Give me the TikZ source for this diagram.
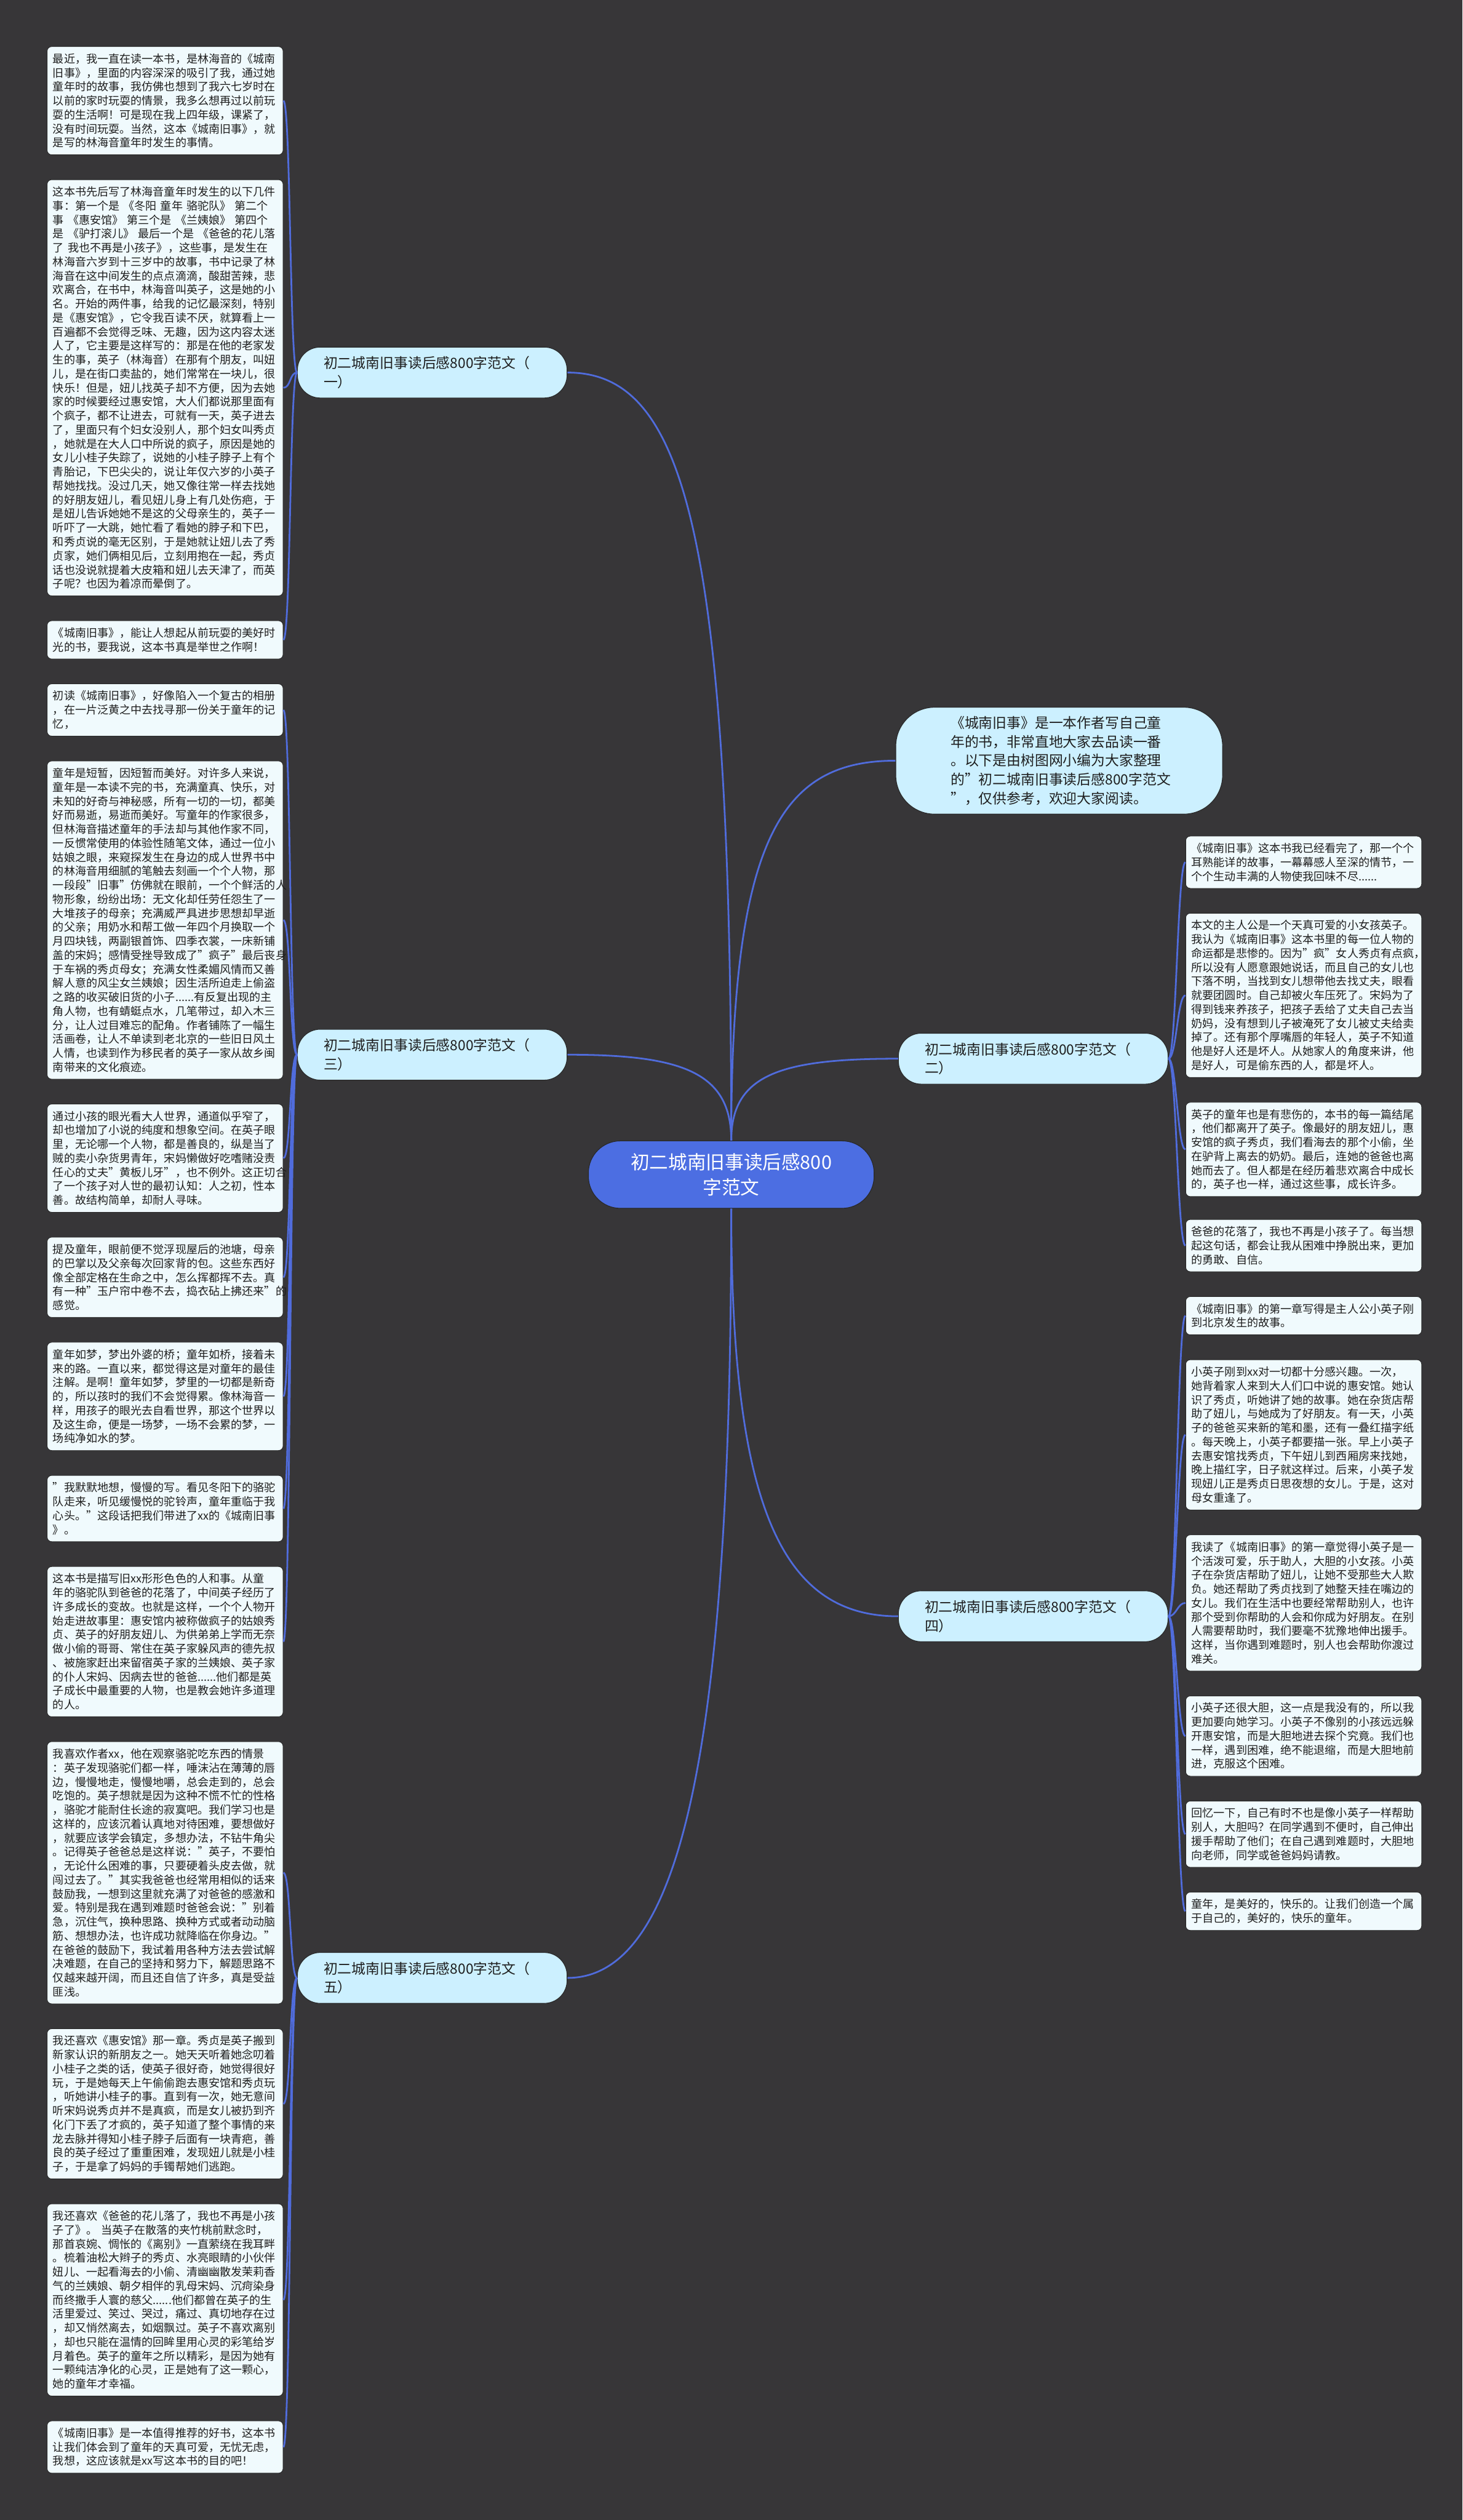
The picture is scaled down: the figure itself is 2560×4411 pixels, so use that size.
\documentclass[tikz,border=0pt]{standalone}
\usepackage{fontspec}
\setmainfont{Noto Sans CJK SC}
\usepackage{tikz}
\setlength{\parindent}{0pt}
\definecolor{bgdark}{RGB}{55, 54, 56}
\definecolor{linkblue}{RGB}{80, 108, 220}
\definecolor{rootblue}{RGB}{76, 110, 226}
\definecolor{branchbg}{RGB}{204, 240, 255}
\definecolor{leafbg}{RGB}{240, 250, 253}
\definecolor{edgegray}{RGB}{40, 40, 40}
\definecolor{inktext}{RGB}{30, 30, 30}
\newcommand{\leaffont}{\fontsize{9.75pt}{12.25pt}\selectfont}
\newcommand{\branchfont}{\fontsize{12.3pt}{16.5pt}\selectfont}
\newcommand{\rootfont}{\fontsize{16.5pt}{22pt}\selectfont}

\begin{document}
\begin{tikzpicture}[
    x=0.5pt, y=-0.5pt,
    leafnd/.style={anchor=north west, fill=leafbg, draw=edgegray,
                   line width=0.5pt, rounded corners=4pt,
                   text width=196.5pt, inner xsep=5pt, inner ysep=0pt,
                   minimum height=#1*12.25pt+9pt, align=left,
                   text=inktext, font=\leaffont},
    branchnd/.style={anchor=north west, fill=branchbg, draw=edgegray,
                     line width=0.6pt, rounded corners=20pt,
                     text width=190pt, inner xsep=23pt, inner ysep=0pt,
                     minimum height=44.5pt, align=left,
                     text=inktext, font=\branchfont},
    intrond/.style={fill=branchbg, draw=edgegray, line width=0.6pt,
                    rounded corners=34pt, text width=190pt,
                    minimum width=286pt, minimum height=93.5pt,
                    align=left, text=inktext, font=\branchfont},
    rootnd/.style={fill=rootblue, draw=edgegray, line width=0.6pt,
                   rounded corners=28pt, minimum width=250pt,
                   minimum height=59pt, align=center, text=white,
                   font=\rootfont},
    link/.style={draw=linkblue, line width=1.5pt},
]

% -- Background --
\fill[bgdark] (0, 0) rectangle (2560, 4411);

% -- Centre and intro --
\node[rootnd] (root) at (1280, 2056) {初二城南旧事读后感800\\字范文};
\node[intrond] (intro) at (1854, 1331.5)
    {《城南旧事》是一本作者写自己童\\
     年的书，非常直地大家去品读一番\\
     。以下是由树图网小编为大家整理\\
     的"初二城南旧事读后感800字范文\\
     "，仅供参考，欢迎大家阅读。};

% -- Branches --
\node[branchnd] (b1) at (520, 607) {初二城南旧事读后感800字范文（\\一）};
\node[branchnd] (b3) at (520, 1801) {初二城南旧事读后感800字范文（\\三）};
\node[branchnd] (b5) at (520, 3417) {初二城南旧事读后感800字范文（\\五）};
\node[branchnd] (b2) at (1572, 1808) {初二城南旧事读后感800字范文（\\二）};
\node[branchnd] (b4) at (1572, 2784) {初二城南旧事读后感800字范文（\\四）};

% -- Leaves of branch one --
\node[leafnd=7] (l1) at (82, 81)
    {最近，我一直在读一本书，是林海音的《城南\\
     旧事》，里面的内容深深的吸引了我，通过她\\
     童年时的故事，我仿佛也想到了我六七岁时在\\
     以前的家时玩耍的情景，我多么想再过以前玩\\
     耍的生活啊！可是现在我上四年级，课紧了，\\
     没有时间玩耍。当然，这本《城南旧事》，就\\
     是写的林海音童年时发生的事情。};
\node[leafnd=29] (l2) at (82, 314)
    {这本书先后写了林海音童年时发生的以下几件\\
     事：第一个是 《冬阳 童年 骆驼队》 第二个\\
     事 《惠安馆》 第三个是 《兰姨娘》 第四个\\
     是 《驴打滚儿》 最后一个是 《爸爸的花儿落\\
     了 我也不再是小孩子》，这些事，是发生在\\
     林海音六岁到十三岁中的故事，书中记录了林\\
     海音在这中间发生的点点滴滴，酸甜苦辣，悲\\
     欢离合，在书中，林海音叫英子，这是她的小\\
     名。开始的两件事，给我的记忆最深刻，特别\\
     是《惠安馆》，它令我百读不厌，就算看上一\\
     百遍都不会觉得乏味、无趣，因为这内容太迷\\
     人了，它主要是这样写的：那是在他的老家发\\
     生的事，英子（林海音）在那有个朋友，叫妞\\
     儿，是在街口卖盐的，她们常常在一块儿，很\\
     快乐！但是，妞儿找英子却不方便，因为去她\\
     家的时候要经过惠安馆，大人们都说那里面有\\
     个疯子，都不让进去，可就有一天，英子进去\\
     了，里面只有个妇女没别人，那个妇女叫秀贞\\
     ，她就是在大人口中所说的疯子，原因是她的\\
     女儿小桂子失踪了，说她的小桂子脖子上有个\\
     青胎记，下巴尖尖的，说让年仅六岁的小英子\\
     帮她找找。没过几天，她又像往常一样去找她\\
     的好朋友妞儿，看见妞儿身上有几处伤疤，于\\
     是妞儿告诉她她不是这的父母亲生的，英子一\\
     听吓了一大跳，她忙看了看她的脖子和下巴，\\
     和秀贞说的毫无区别，于是她就让妞儿去了秀\\
     贞家，她们俩相见后，立刻用抱在一起，秀贞\\
     话也没说就提着大皮箱和妞儿去天津了，而英\\
     子呢？也因为着凉而晕倒了。};
\node[leafnd=2] (l3) at (82, 1086)
    {《城南旧事》，能让人想起从前玩耍的美好时\\
     光的书，要我说，这本书真是举世之作啊！};

% -- Leaves of branch three --
\node[leafnd=3] (l4) at (82, 1196.5)
    {初读《城南旧事》，好像陷入一个复古的相册\\
     ，在一片泛黄之中去找寻那一份关于童年的记\\
     忆，};
\node[leafnd=22] (l5) at (82, 1331.5)
    {童年是短暂，因短暂而美好。对许多人来说，\\
     童年是一本读不完的书，充满童真、快乐，对\\
     未知的好奇与神秘感，所有一切的一切，都美\\
     好而易逝，易逝而美好。写童年的作家很多，\\
     但林海音描述童年的手法却与其他作家不同，\\
     一反惯常使用的体验性随笔文体，通过一位小\\
     姑娘之眼，来窥探发生在身边的成人世界书中\\
     的林海音用细腻的笔触去刻画一个个人物，那\\
     一段段"旧事"仿佛就在眼前，一个个鲜活的人\\
     物形象，纷纷出场：无文化却任劳任怨生了一\\
     大堆孩子的母亲；充满威严具进步思想却早逝\\
     的父亲；用奶水和帮工做一年四个月换取一个\\
     月四块钱，两副银首饰、四季衣裳，一床新铺\\
     盖的宋妈；感情受挫导致成了"疯子"最后丧身\\
     于车祸的秀贞母女；充满女性柔媚风情而又善\\
     解人意的风尘女兰姨娘；因生活所迫走上偷盗\\
     之路的收买破旧货的小子......有反复出现的主\\
     角人物，也有蜻蜓点水，几笔带过，却入木三\\
     分，让人过目难忘的配角。作者铺陈了一幅生\\
     活画卷，让人不单读到老北京的一些旧日风土\\
     人情，也读到作为移民者的英子一家从故乡闽\\
     南带来的文化痕迹。};
\node[leafnd=7] (l6) at (82, 1932)
    {通过小孩的眼光看大人世界，通道似乎窄了，\\
     却也增加了小说的纯度和想象空间。在英子眼\\
     里，无论哪一个人物，都是善良的，纵是当了\\
     贼的卖小杂货男青年，宋妈懒做好吃嗜赌没责\\
     任心的丈夫"黄板儿牙"，也不例外。这正切合\\
     了一个孩子对人世的最初认知：人之初，性本\\
     善。故结构简单，却耐人寻味。};
\node[leafnd=5] (l7) at (82, 2165)
    {提及童年，眼前便不觉浮现屋后的池塘，母亲\\
     的巴掌以及父亲每次回家背的包。这些东西好\\
     像全部定格在生命之中，怎么挥都挥不去。真\\
     有一种"玉户帘中卷不去，捣衣砧上拂还来"的\\
     感觉。};
\node[leafnd=7] (l8) at (82, 2349)
    {童年如梦，梦出外婆的桥；童年如桥，接着未\\
     来的路。一直以来，都觉得这是对童年的最佳\\
     注解。是啊！童年如梦，梦里的一切都是新奇\\
     的，所以孩时的我们不会觉得累。像林海音一\\
     样，用孩子的眼光去自看世界，那这个世界以\\
     及这生命，便是一场梦，一场不会累的梦，一\\
     场纯净如水的梦。};
\node[leafnd=4] (l9) at (82, 2582)
    {"我默默地想，慢慢的写。看见冬阳下的骆驼\\
     队走来，听见缓慢悦的驼铃声，童年重临于我\\
     心头。"这段话把我们带进了xx的《城南旧事\\
     》。};
\node[leafnd=10] (l10) at (82, 2741.5)
    {这本书是描写旧xx形形色色的人和事。从童\\
     年的骆驼队到爸爸的花落了，中间英子经历了\\
     许多成长的变故。也就是这样，一个个人物开\\
     始走进故事里：惠安馆内被称做疯子的姑娘秀\\
     贞、英子的好朋友妞儿、为供弟弟上学而无奈\\
     做小偷的哥哥、常住在英子家躲风声的德先叔\\
     、被施家赶出来留宿英子家的兰姨娘、英子家\\
     的仆人宋妈、因病去世的爸爸......他们都是英\\
     子成长中最重要的人物，也是教会她许多道理\\
     的人。};

% -- Leaves of branch five --
\node[leafnd=18] (l11) at (82, 3048)
    {我喜欢作者xx，他在观察骆驼吃东西的情景\\
     ：英子发现骆驼们都一样，唾沫沾在薄薄的唇\\
     边，慢慢地走，慢慢地嚼，总会走到的，总会\\
     吃饱的。英子想就是因为这种不慌不忙的性格\\
     ，骆驼才能耐住长途的寂寞吧。我们学习也是\\
     这样的，应该沉着认真地对待困难，要想做好\\
     ，就要应该学会镇定，多想办法，不钻牛角尖\\
     。记得英子爸爸总是这样说："英子，不要怕\\
     ，无论什么困难的事，只要硬着头皮去做，就\\
     闯过去了。"其实我爸爸也经常用相似的话来\\
     鼓励我，一想到这里就充满了对爸爸的感激和\\
     爱。特别是我在遇到难题时爸爸会说："别着\\
     急，沉住气，换种思路、换种方式或者动动脑\\
     筋、想想办法，也许成功就降临在你身边。"\\
     在爸爸的鼓励下，我试着用各种方法去尝试解\\
     决难题，在自己的坚持和努力下，解题思路不\\
     仅越来越开阔，而且还自信了许多，真是受益\\
     匪浅。};
\node[leafnd=10] (l12) at (82, 3550.5)
    {我还喜欢《惠安馆》那一章。秀贞是英子搬到\\
     新家认识的新朋友之一。她天天听着她念叨着\\
     小桂子之类的话，使英子很好奇，她觉得很好\\
     玩，于是她每天上午偷偷跑去惠安馆和秀贞玩\\
     ，听她讲小桂子的事。直到有一次，她无意间\\
     听宋妈说秀贞并不是真疯，而是女儿被扔到齐\\
     化门下丢了才疯的，英子知道了整个事情的来\\
     龙去脉并得知小桂子脖子后面有一块青疤，善\\
     良的英子经过了重重困难，发现妞儿就是小桂\\
     子，于是拿了妈妈的手镯帮她们逃跑。};
\node[leafnd=13] (l13) at (82, 3857)
    {我还喜欢《爸爸的花儿落了，我也不再是小孩\\
     子了》。 当英子在散落的夹竹桃前默念时，\\
     那首哀婉、惆怅的《离别》一直萦绕在我耳畔\\
     。梳着油松大辫子的秀贞、水亮眼睛的小伙伴\\
     妞儿、一起看海去的小偷、清幽幽散发茉莉香\\
     气的兰姨娘、朝夕相伴的乳母宋妈、沉疴染身\\
     而终撒手人寰的慈父......他们都曾在英子的生\\
     活里爱过、笑过、哭过，痛过、真切地存在过\\
     ，却又悄然离去，如烟飘过。英子不喜欢离别\\
     ，却也只能在温情的回眸里用心灵的彩笔给岁\\
     月着色。英子的童年之所以精彩，是因为她有\\
     一颗纯洁净化的心灵，正是她有了这一颗心，\\
     她的童年才幸福。};
\node[leafnd=3] (l14) at (82, 4237)
    {《城南旧事》是一本值得推荐的好书，这本书\\
     让我们体会到了童年的天真可爱，无忧无虑，\\
     我想，这应该就是xx写这本书的目的吧！};

% -- Leaves of branch two --
\node[leafnd=3] (r1) at (2075, 1463)
    {《城南旧事》这本书我已经看完了，那一个个\\
     耳熟能详的故事，一幕幕感人至深的情节，一\\
     个个生动丰满的人物使我回味不尽......};
\node[leafnd=11] (r2) at (2075, 1598)
    {本文的主人公是一个天真可爱的小女孩英子。\\
     我认为《城南旧事》这本书里的每一位人物的\\
     命运都是悲惨的。因为"疯"女人秀贞有点疯，\\
     所以没有人愿意跟她说话，而且自己的女儿也\\
     下落不明，当找到女儿想带他去找丈夫，眼看\\
     就要团圆时。自己却被火车压死了。宋妈为了\\
     得到钱来养孩子，把孩子丢给了丈夫自己去当\\
     奶妈，没有想到儿子被淹死了女儿被丈夫给卖\\
     掉了。还有那个厚嘴唇的年轻人，英子不知道\\
     他是好人还是坏人。从她家人的角度来讲，他\\
     是好人，可是偷东西的人，都是坏人。};
\node[leafnd=6] (r3) at (2075, 1929)
    {英子的童年也是有悲伤的，本书的每一篇结尾\\
     ，他们都离开了英子。像最好的朋友妞儿，惠\\
     安馆的疯子秀贞，我们看海去的那个小偷，坐\\
     在驴背上离去的奶奶。最后，连她的爸爸也离\\
     她而去了。但人都是在经历着悲欢离合中成长\\
     的，英子也一样，通过这些事，成长许多。};
\node[leafnd=3] (r4) at (2075, 2134)
    {爸爸的花落了，我也不再是小孩子了。每当想\\
     起这句话，都会让我从困难中挣脱出来，更加\\
     的勇敢、自信。};

% -- Leaves of branch four --
\node[leafnd=2] (r5) at (2075, 2269)
    {《城南旧事》的第一章写得是主人公小英子刚\\
     到北京发生的故事。};
\node[leafnd=10] (r6) at (2075, 2379.5)
    {小英子刚到xx对一切都十分感兴趣。一次，\\
     她背着家人来到大人们口中说的惠安馆。她认\\
     识了秀贞，听她讲了她的故事。她在杂货店帮\\
     助了妞儿，与她成为了好朋友。有一天，小英\\
     子的爸爸买来新的笔和墨，还有一叠红描字纸\\
     。每天晚上，小英子都要描一张。早上小英子\\
     去惠安馆找秀贞，下午妞儿到西厢房来找她，\\
     晚上描红字，日子就这样过。后来，小英子发\\
     现妞儿正是秀贞日思夜想的女儿。于是，这对\\
     母女重逢了。};
\node[leafnd=9] (r7) at (2075, 2686)
    {我读了《城南旧事》的第一章觉得小英子是一\\
     个活泼可爱，乐于助人，大胆的小女孩。小英\\
     子在杂货店帮助了妞儿，让她不受那些大人欺\\
     负。她还帮助了秀贞找到了她整天挂在嘴边的\\
     女儿。我们在生活中也要经常帮助别人，也许\\
     那个受到你帮助的人会和你成为好朋友。在别\\
     人需要帮助时，我们要毫不犹豫地伸出援手。\\
     这样，当你遇到难题时，别人也会帮助你渡过\\
     难关。};
\node[leafnd=5] (r8) at (2075, 2968)
    {小英子还很大胆，这一点是我没有的，所以我\\
     更加要向她学习。小英子不像别的小孩远远躲\\
     开惠安馆，而是大胆地进去探个究竟。我们也\\
     一样，遇到困难，绝不能退缩，而是大胆地前\\
     进，克服这个困难。};
\node[leafnd=4] (r9) at (2075, 3152)
    {回忆一下，自己有时不也是像小英子一样帮助\\
     别人，大胆吗？在同学遇到不便时，自己伸出\\
     援手帮助了他们；在自己遇到难题时，大胆地\\
     向老师，同学或爸爸妈妈请教。};
\node[leafnd=2] (r10) at (2075, 3311.5)
    {童年，是美好的，快乐的。让我们创造一个属\\
     于自己的，美好的，快乐的童年。};

% -- Centre to branches --
\draw[link] (root.north) .. controls +(0, -1080) and +(200, 0) .. (b1.east);
\draw[link] (root.north) .. controls +(0, -530) and +(-200, 0) .. (intro.west);
\draw[link] (root.north) .. controls +(0, -120) and +(200, 0) .. (b3.east);
\draw[link] (root.north) .. controls +(0, -116) and +(-205, 0) .. (b2.west);
\draw[link] (root.south) .. controls +(0, 520) and +(-205, 0) .. (b4.west);
\draw[link] (root.south) .. controls +(0, 940) and +(200, 0) .. (b5.east);

% -- Branches to leaves --
\foreach \l in {l1, l2, l3}
    \draw[link] (b1.west) .. controls +(-13, 0) and +(13, 0) .. (\l.east);
\foreach \l in {l4, l5, l6, l7, l8, l9, l10}
    \draw[link] (b3.west) .. controls +(-13, 0) and +(13, 0) .. (\l.east);
\foreach \l in {l11, l12, l13, l14}
    \draw[link] (b5.west) .. controls +(-13, 0) and +(13, 0) .. (\l.east);
\foreach \r in {r1, r2, r3, r4}
    \draw[link] (b2.east) .. controls +(14, 0) and +(-14, 0) .. (\r.west);
\foreach \r in {r5, r6, r7, r8, r9, r10}
    \draw[link] (b4.east) .. controls +(14, 0) and +(-14, 0) .. (\r.west);

\end{tikzpicture}
\end{document}
